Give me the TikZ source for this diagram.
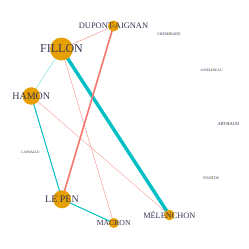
\documentclass[tikz,border=0pt]{standalone}
\usepackage{fontspec}
\setmainfont{Liberation Serif}
\usepackage{xcolor}
\usepackage{tikz}
\definecolor{vred}{HTML}{F8766D}
\definecolor{vteal}{HTML}{00BFC4}
\definecolor{vgold}{HTML}{E69F00}
\definecolor{vtext}{RGB}{55,55,85}

\begin{document}
\begin{tikzpicture}[
  x=1pt, y=-1pt,
  vert/.style={circle, fill=vgold, inner sep=0pt},
  lbl/.style={text=vtext, inner sep=0pt},
  negedge/.style={vred, line cap=round},
  posedge/.style={vteal, line cap=round}
]
  \useasboundingbox[fill=white] (0,0) rectangle (249,249);

  \coordinate (fillon) at (61.5,49);
  \coordinate (dupont) at (113.5,26);
  \coordinate (hamon) at (31.3,96);
  \coordinate (lepen) at (62,199.3);
  \coordinate (macron) at (113.7,223);
  \coordinate (melenchon) at (169.3,215);
  \coordinate (cheminade) at (169,34);
  \coordinate (asselineau) at (211.5,70);
  \coordinate (arthaud) at (228.5,124);
  \coordinate (poutou) at (211.5,178);
  \coordinate (lassalle) at (30.5,152);

  % edges
  \draw[posedge, line width=3.4pt] (fillon) -- (melenchon);
  \draw[negedge, line width=1.6pt] (dupont) -- (lepen);
  \draw[posedge, line width=1pt] (hamon) -- (lepen);
  \draw[posedge, line width=1pt] (lepen) -- (macron);
  \draw[posedge, line width=0.4pt, opacity=0.6] (fillon) -- (hamon);
  \draw[negedge, line width=0.5pt, opacity=0.7] (fillon) -- (dupont);
  \draw[negedge, line width=0.5pt, opacity=0.7] (fillon) -- (macron);
  \draw[negedge, line width=0.4pt, opacity=0.7] (hamon) -- (melenchon);

  % vertices
  \node[vert, minimum size=23pt] (fillon-c) at (fillon) {};
  \node[vert, minimum size=11pt] (dupont-c) at (dupont) {};
  \node[vert, minimum size=17.5pt] (hamon-c) at (hamon) {};
  \node[vert, minimum size=18pt] (lepen-c) at (lepen) {};
  \node[vert, minimum size=10pt] (macron-c) at (macron) {};
  \node[vert, minimum size=10.5pt] (melenchon-c) at (melenchon) {};
  \foreach \v in {cheminade,asselineau,arthaud,poutou,lassalle}
    \node[vert, minimum size=1.2pt] (\v-c) at (\v) {};

  % labels
  \node[lbl, font=\fontsize{12}{12}\selectfont] (fillon-t) at (fillon) {FILLON};
  \node[lbl, font=\fontsize{8.4}{8.4}\selectfont] (dupont-t) at (dupont) {DUPONT-AIGNAN};
  \node[lbl, font=\fontsize{10}{10}\selectfont] (hamon-t) at (hamon) {HAMON};
  \node[lbl, font=\fontsize{10}{10}\selectfont] (lepen-t) at (lepen) {LE PEN};
  \node[lbl, font=\fontsize{7.7}{7.7}\selectfont] (macron-t) at (macron) {MACRON};
  \node[lbl, font=\fontsize{8.3}{8.3}\selectfont] (melenchon-t) at (melenchon) {MÉLENCHON};
  \node[lbl, font=\fontsize{3.9}{3.9}\selectfont] (cheminade-t) at (cheminade) {CHEMINADE};
  \node[lbl, font=\fontsize{3.6}{3.6}\selectfont] (asselineau-t) at (asselineau) {ASSELINEAU};
  \node[lbl, font=\fontsize{4.5}{4.5}\selectfont] (arthaud-t) at (arthaud) {ARTHAUD};
  \node[lbl, font=\fontsize{4}{4}\selectfont] (poutou-t) at (poutou) {POUTOU};
  \node[lbl, font=\fontsize{3.7}{3.7}\selectfont] (lassalle-t) at (lassalle) {LASSALLE};
\end{tikzpicture}
\end{document}
